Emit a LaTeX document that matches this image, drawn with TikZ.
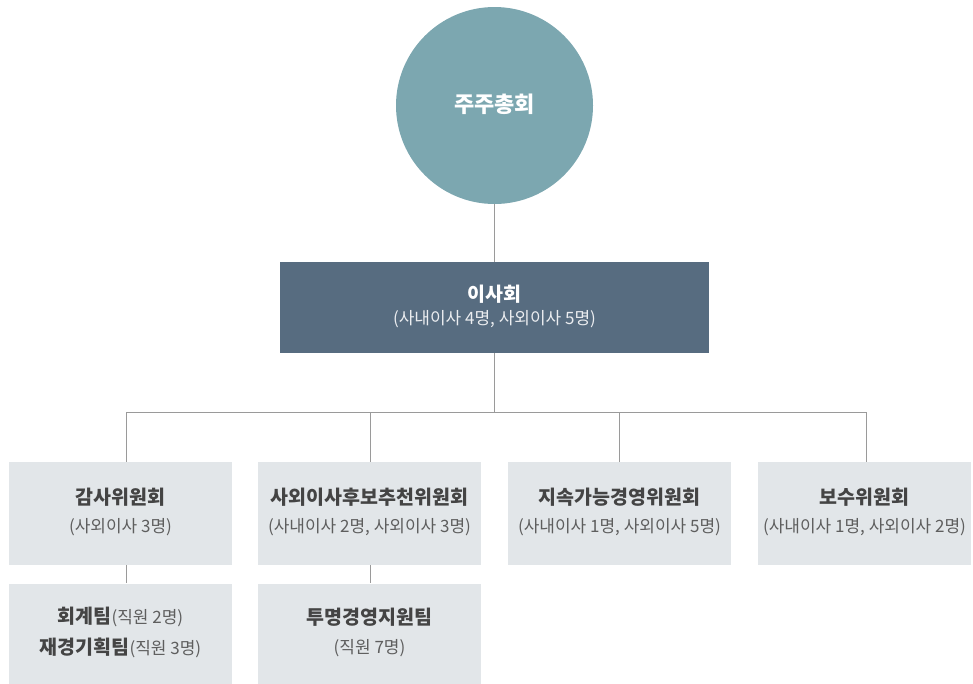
\documentclass[tikz,border=0pt]{standalone}
\usepackage{fontspec}
\setmainfont{Noto Sans CJK KR}
\definecolor{circ}{HTML}{7CA7B0}
\definecolor{board}{HTML}{576C80}
\definecolor{boxfill}{HTML}{E2E6E9}
\definecolor{ttl}{HTML}{444444}
\definecolor{sub}{HTML}{5E5E5E}
\definecolor{lnc}{HTML}{9A9A9A}
\tikzset{
  conn/.style={draw=lnc, line width=1pt},
  cbox/.style={fill=boxfill, draw=none, minimum width=223pt, minimum height=103pt, inner sep=0pt, align=center},
  lbox/.style={fill=boxfill, draw=none, minimum width=223pt, minimum height=100pt, inner sep=0pt, align=center},
  ttlf/.style={font=\fontsize{19.5}{23}\selectfont\bfseries, text=ttl},
  subf/.style={font=\fontsize{17}{21}\selectfont, text=sub},
}
\begin{document}
\begin{tikzpicture}[x=1pt,y=-1pt]
\useasboundingbox (0,0) rectangle (973,683);
% circle
\node[circle, fill=circ, minimum size=197pt, inner sep=0pt] (gm) at (494.5,105.5) {};
\node[font=\fontsize{22}{26}\selectfont\bfseries, text=white] (gmt) at (494.5,104) {주주총회};
% board
\node[fill=board, minimum width=429pt, minimum height=91pt, inner sep=0pt] (bd) at (494.5,307.5) {};
\node[font=\fontsize{19.5}{23}\selectfont\bfseries, text=white] (bdt) at (494.5,294) {이사회};
\node[font=\fontsize{17}{21}\selectfont, text=white!88!board] (bds) at (494.5,319.5) {(사내이사 4명, 사외이사 5명)};
% committees
\node[cbox] (c1) at (120.5,513.5) {};
\node[cbox] (c2) at (369.5,513.5) {};
\node[cbox] (c3) at (619.5,513.5) {};
\node[cbox, minimum width=213pt] (c4) at (864.5,513.5) {};
\node[lbox] (l1) at (120.5,633.5) {};
\node[lbox] (l2) at (369.5,633.5) {};
% connectors
\coordinate (busL) at (126,412);
\coordinate (busR) at (866,412);
\coordinate (busM) at (494.5,412);
\draw[conn] (gm.south) -- (bd.north);
\draw[conn] (bd.south) -- (busM);
\draw[conn] (busL) -- (busR);
\draw[conn] (busL) -- (busL |- c1.north);
\draw[conn] (370,412) -- (370,462);
\draw[conn] (619,412) -- (619,462);
\draw[conn] (busR) -- (busR |- c4.north);
\draw[conn] (c1.south -| busL) -- (busL |- l1.north);
\draw[conn] (370,565) -- (370,583);
% texts
\node[ttlf] (t1) at (120.5,497) {감사위원회};
\node[subf] (s1) at (120.5,527.5) {(사외이사 3명)};
\node[ttlf] (t2) at (369.5,497) {사외이사후보추천위원회};
\node[subf] (s2) at (369.5,527.5) {(사내이사 2명, 사외이사 3명)};
\node[ttlf] (t3) at (619.5,497) {지속가능경영위원회};
\node[subf] (s3) at (619.5,527.5) {(사내이사 1명, 사외이사 5명)};
\node[ttlf] (t4) at (864.5,497) {보수위원회};
\node[subf] (s4) at (864.5,527.5) {(사내이사 1명, 사외이사 2명)};
\node[text=ttl] (u1) at (120.5,617) {{\fontsize{19.5}{23}\selectfont\bfseries 회계팀}{\fontsize{17}{21}\selectfont\color{sub}(직원 2명)}};
\node[text=ttl] (u2) at (120.5,648) {{\fontsize{19.5}{23}\selectfont\bfseries 재경기획팀}{\fontsize{17}{21}\selectfont\color{sub}(직원 3명)}};
\node[ttlf] (v1) at (369.5,617) {투명경영지원팀};
\node[subf] (v2) at (369.5,648) {(직원 7명)};
\end{tikzpicture}
\end{document}
